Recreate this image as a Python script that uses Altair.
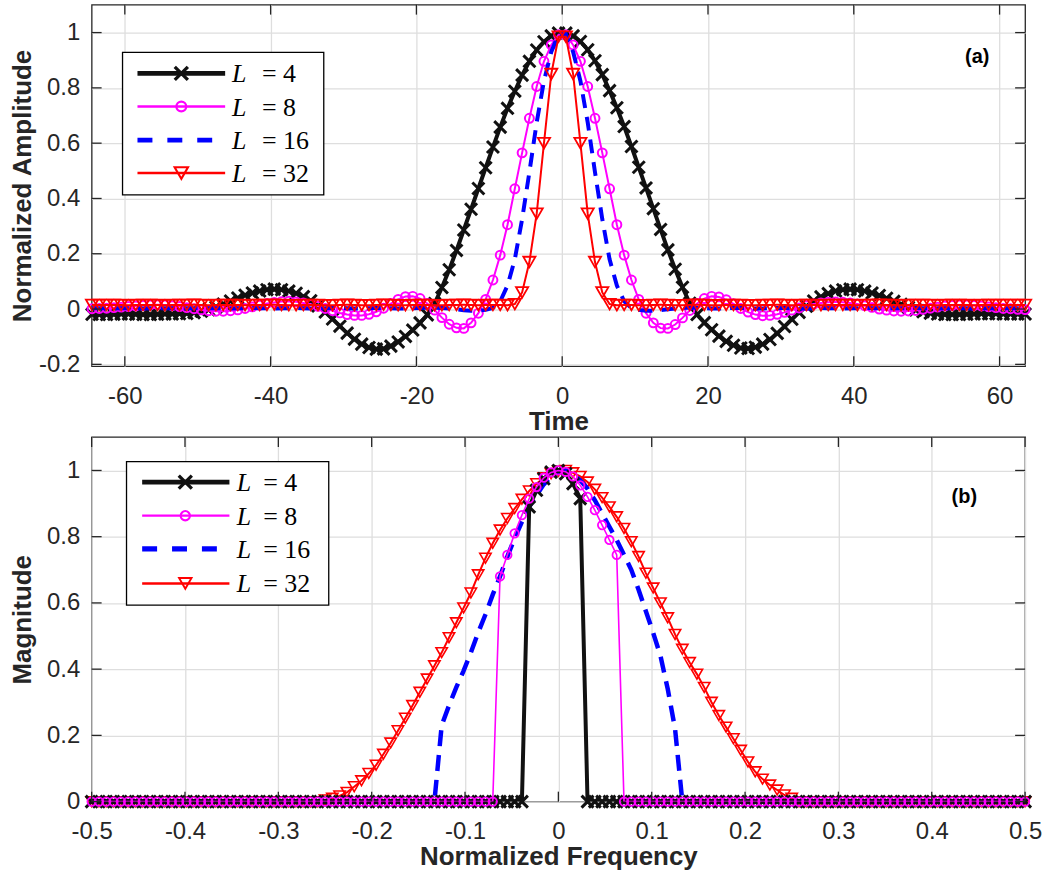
import altair as alt
import pandas as pd

# ---------------- data ----------------
# (a) time axis: samples at half-integer times -64.5 ... 63.5
TIME = [-64.5 + i for i in range(129)]

AMP_L4 = [
    -0.019, -0.02, -0.02, -0.019, -0.018, -0.018, -0.019, -0.02, -0.02, -0.019,
    -0.018, -0.018, -0.017, -0.016, -0.013, -0.008, -0.002, 0.007, 0.018, 0.029,
    0.04, 0.05, 0.058, 0.065, 0.07, 0.072, 0.07, 0.065, 0.057, 0.045,
    0.03, 0.011, -0.011, -0.036, -0.062, -0.087, -0.109, -0.127, -0.139, -0.145,
    -0.144, -0.134, -0.119, -0.099, -0.076, -0.05, -0.021, 0.02, 0.078, 0.142,
    0.212, 0.286, 0.361, 0.436, 0.511, 0.586, 0.658, 0.726, 0.788, 0.846,
    0.896, 0.937, 0.967, 0.988, 0.998,
    0.998, 0.988, 0.968, 0.938, 0.898, 0.848, 0.79, 0.728, 0.66, 0.588,
    0.513, 0.438, 0.363, 0.288, 0.214, 0.144, 0.079, 0.021, -0.02, -0.049,
    -0.075, -0.098, -0.117, -0.131, -0.141, -0.143, -0.138, -0.127, -0.11, -0.088,
    -0.063, -0.037, -0.012, 0.01, 0.029, 0.044, 0.056, 0.065, 0.07, 0.072,
    0.07, 0.065, 0.058, 0.049, 0.039, 0.028, 0.017, 0.006, -0.003, -0.01,
    -0.015, -0.018, -0.02, -0.02, -0.02, -0.019, -0.018, -0.017, -0.017, -0.017,
    -0.018, -0.018, -0.018, -0.018,
]
AMP_L8 = [
    0.001, 0.002, 0.003, 0.005, 0.007, 0.009, 0.011, 0.013, 0.015, 0.016,
    0.015, 0.012, 0.009, 0.005, 0.001, -0.003, -0.006, -0.008, -0.008, -0.006,
    -0.003, 0.002, 0.008, 0.014, 0.02, 0.024, 0.027, 0.028, 0.026, 0.022,
    0.017, 0.01, 0.002, -0.006, -0.014, -0.02, -0.023, -0.023, -0.019, -0.01,
    0.003, 0.02, 0.035, 0.045, 0.046, 0.038, 0.02, -0.004, -0.031, -0.055,
    -0.068, -0.07, -0.05, -0.015, 0.035, 0.105, 0.195, 0.305, 0.435, 0.565,
    0.69, 0.805, 0.896, 0.955, 0.992,
    0.992, 0.955, 0.896, 0.805, 0.69, 0.565, 0.435, 0.305, 0.195, 0.105,
    0.035, -0.015, -0.05, -0.069, -0.07, -0.056, -0.032, -0.005, 0.02, 0.038,
    0.046, 0.044, 0.034, 0.019, 0.002, -0.011, -0.02, -0.024, -0.023, -0.019,
    -0.012, -0.004, 0.004, 0.012, 0.018, 0.022, 0.025, 0.026, 0.025, 0.022,
    0.018, 0.012, 0.006, 0.0, -0.004, -0.007, -0.008, -0.007, -0.005, -0.001,
    0.003, 0.007, 0.011, 0.013, 0.015, 0.015, 0.013, 0.011, 0.008, 0.005,
    0.002, 0.001, -0.001, -0.002,
]
AMP_L16 = [
    0.003, 0.003, 0.003, 0.003, 0.003, 0.003, 0.003, 0.002, 0.003, 0.003,
    0.003, 0.003, 0.002, 0.003, 0.003, 0.004, 0.003, 0.003, 0.003, 0.002,
    0.003, 0.003, 0.004, 0.003, 0.003, 0.002, 0.003, 0.003, 0.004, 0.003,
    0.002, 0.002, 0.003, 0.004, 0.004, 0.003, 0.002, 0.002, 0.003, 0.004,
    0.004, 0.003, 0.002, 0.002,
    0.003, 0.004, 0.005, 0.005, 0.004, 0.002, -0.001, -0.004, -0.006, -0.006,
    -0.003, 0.004, 0.028, 0.085, 0.18, 0.325, 0.495, 0.675, 0.825, 0.93, 0.995,
    0.995, 0.93, 0.825, 0.675, 0.495, 0.325, 0.18, 0.085, 0.028, 0.004,
    -0.003, -0.006, -0.006, -0.004, -0.001, 0.002, 0.004, 0.005, 0.005, 0.004,
    0.002, 0.002, 0.003, 0.004, 0.004, 0.003, 0.002, 0.002, 0.003, 0.004,
    0.004, 0.003, 0.002, 0.002, 0.003, 0.004, 0.003, 0.003, 0.002, 0.003,
    0.003, 0.004, 0.003, 0.003, 0.002, 0.003, 0.003, 0.003, 0.004, 0.003,
    0.003, 0.002, 0.003, 0.003, 0.003, 0.003, 0.002, 0.003, 0.003, 0.003,
    0.003, 0.003, 0.003, 0.003,
]
AMP_L32 = [
    0.015, 0.015, 0.015, 0.015, 0.015, 0.014, 0.015, 0.015, 0.015, 0.015,
    0.014, 0.015, 0.015, 0.015, 0.016, 0.015, 0.014, 0.015, 0.015, 0.015,
    0.015, 0.014, 0.015, 0.015, 0.015, 0.016, 0.015, 0.014, 0.014, 0.015,
    0.015, 0.015, 0.014, 0.014, 0.015, 0.016, 0.015, 0.014, 0.014, 0.015,
    0.016, 0.015, 0.014, 0.014, 0.015, 0.015, 0.015, 0.014, 0.014, 0.015,
    0.015, 0.016, 0.015, 0.014, 0.015, 0.015, 0.015,
    0.014, 0.018, 0.06, 0.17, 0.345, 0.6, 0.85, 0.985,
    0.985, 0.85, 0.6, 0.345, 0.17, 0.06, 0.018, 0.014,
    0.015, 0.015, 0.014, 0.014, 0.015, 0.016, 0.015, 0.014, 0.014, 0.015,
    0.016, 0.015, 0.014, 0.014, 0.015, 0.015, 0.015, 0.014, 0.014, 0.015,
    0.015, 0.016, 0.015, 0.014, 0.015, 0.015, 0.015, 0.014, 0.015, 0.015,
    0.015, 0.015, 0.014, 0.015, 0.015, 0.016, 0.015, 0.015, 0.014, 0.015,
    0.015, 0.015, 0.015, 0.014, 0.015, 0.015, 0.015, 0.015, 0.014, 0.015,
    0.015, 0.015, 0.015, 0.015, 0.015, 0.015,
]

# (b) frequency axis: bins k = -64 ... 64 of a 128-point grid
FREQ_BIN = list(range(-64, 65))
N_FFT = 128

MAG_L4 = [
    0, 0, 0, 0, 0, 0, 0, 0, 0, 0, 0, 0, 0, 0, 0, 0,
    0, 0, 0, 0, 0, 0, 0, 0, 0, 0, 0, 0, 0, 0, 0, 0,
    0, 0, 0, 0, 0, 0, 0, 0, 0, 0, 0, 0, 0, 0, 0, 0,
    0, 0, 0, 0, 0, 0, 0, 0, 0, 0, 0, 0, 0.89, 0.94, 0.975, 0.995,
    1.0, 0.99, 0.96, 0.915, 0, 0, 0, 0, 0, 0, 0, 0, 0, 0, 0, 0,
    0, 0, 0, 0, 0, 0, 0, 0, 0, 0, 0, 0, 0, 0, 0, 0,
    0, 0, 0, 0, 0, 0, 0, 0, 0, 0, 0, 0, 0, 0, 0, 0,
    0, 0, 0, 0, 0, 0, 0, 0, 0, 0, 0, 0, 0, 0, 0, 0,
    0,
]
MAG_L8 = [
    0, 0, 0, 0, 0, 0, 0, 0, 0, 0, 0, 0, 0, 0, 0, 0,
    0, 0, 0, 0, 0, 0, 0, 0, 0, 0, 0, 0, 0, 0, 0, 0,
    0, 0, 0, 0, 0, 0, 0, 0, 0, 0, 0, 0, 0, 0, 0, 0,
    0, 0, 0, 0, 0, 0, 0, 0, 0.68, 0.745, 0.81, 0.865, 0.915, 0.95, 0.978, 0.994,
    1.0, 0.996, 0.982, 0.955, 0.92, 0.88, 0.835, 0.79, 0.745, 0, 0, 0, 0, 0, 0, 0,
    0, 0, 0, 0, 0, 0, 0, 0, 0, 0, 0, 0, 0, 0, 0, 0,
    0, 0, 0, 0, 0, 0, 0, 0, 0, 0, 0, 0, 0, 0, 0, 0,
    0, 0, 0, 0, 0, 0, 0, 0, 0, 0, 0, 0, 0, 0, 0, 0,
    0,
]
MAG_L16 = [
    0, 0, 0, 0, 0, 0, 0, 0, 0, 0, 0, 0, 0, 0, 0, 0,
    0, 0, 0, 0, 0, 0, 0, 0, 0, 0, 0, 0, 0, 0, 0, 0,
    0, 0, 0, 0, 0, 0, 0, 0, 0, 0, 0, 0, 0, 0, 0, 0,
    0.23, 0.29, 0.345, 0.395, 0.45, 0.51, 0.565, 0.625, 0.68, 0.74, 0.795, 0.845, 0.89, 0.925, 0.958, 0.982,
    0.996, 1.0, 0.99, 0.97, 0.945, 0.91, 0.87, 0.83, 0.79, 0.745, 0.7, 0.64, 0.575, 0.51, 0.44, 0.34,
    0.22, 0, 0, 0, 0, 0, 0, 0, 0, 0, 0, 0, 0, 0, 0, 0,
    0, 0, 0, 0, 0, 0, 0, 0, 0, 0, 0, 0, 0, 0, 0, 0,
    0, 0, 0, 0, 0, 0, 0, 0, 0, 0, 0, 0, 0, 0, 0, 0,
    0,
]
MAG_L32 = [
    0, 0, 0, 0, 0, 0, 0, 0, 0, 0, 0, 0, 0, 0, 0, 0,
    0, 0, 0, 0, 0, 0, 0, 0, 0, 0, 0, 0, 0, 0, 0, 0,
    0.005, 0.01, 0.017, 0.028, 0.045, 0.063, 0.085, 0.11, 0.143, 0.177, 0.214, 0.252, 0.29, 0.33, 0.37, 0.41,
    0.45, 0.495, 0.54, 0.585, 0.63, 0.685, 0.735, 0.78, 0.82, 0.855, 0.885, 0.913, 0.938, 0.96, 0.978, 0.99,
    0.998, 1.0, 0.993, 0.982, 0.965, 0.943, 0.918, 0.89, 0.86, 0.825, 0.785, 0.74, 0.69, 0.645, 0.6, 0.555,
    0.505, 0.46, 0.42, 0.385, 0.345, 0.3, 0.26, 0.225, 0.19, 0.155, 0.12, 0.09, 0.068, 0.05, 0.035, 0.02,
    0.01, 0, 0, 0, 0, 0, 0, 0, 0, 0, 0, 0, 0, 0, 0, 0,
    0, 0, 0, 0, 0, 0, 0, 0, 0, 0, 0, 0, 0, 0, 0, 0,
    0,
]

TIME_TICKS = [-60, -40, -20, 0, 20, 40, 60]
AMP_TICKS = [-0.2, 0, 0.2, 0.4, 0.6, 0.8, 1]
FREQ_TICKS = [-0.5, -0.4, -0.3, -0.2, -0.1, 0, 0.1, 0.2, 0.3, 0.4, 0.5]
MAG_TICKS = [0, 0.2, 0.4, 0.6, 0.8, 1]
LEGEND_N = ["4", "8", "16", "32"]

# ---------------- styling ----------------
SANS = "Liberation Sans"
SERIF = "Liberation Serif"
AX = "#262626"
GRID = "#dedede"
W = 937
H_TOP = 363
H_BOT = 366
XSHAPE = "M-1,-1L1,1M-1,1L1,-1"
LBL = "datum.value < 0 ? '-' + format(-datum.value, '~g') : format(datum.value, '~g')"
ONE = pd.DataFrame({"z": [0]})

STY_A = {
    "4": dict(color="#111111", lw=4, dash=None, shape=XSHAPE, size=144, msw=3),
    "8": dict(color="#ff00ff", lw=2, dash=None, shape="circle", size=80, msw=2),
    "16": dict(color="#0000ff", lw=4, dash=[14, 9], shape=None, size=0, msw=0),
    "32": dict(color="#ff0000", lw=2, dash=None, shape="triangle-down", size=150, msw=1.8),
}
STY_B = {
    "4": dict(color="#111111", lw=4, dash=None, shape=XSHAPE, size=144, msw=3),
    "8": dict(color="#ff00ff", lw=1.6, dash=None, shape="circle", size=72, msw=1.8),
    "16": dict(color="#0000ff", lw=4.5, dash=[16, 9], shape=None, size=0, msw=0),
    "32": dict(color="#ff0000", lw=2, dash=None, shape="triangle-down", size=130, msw=1.6),
}


def x_axis(values, title, title_y):
    return alt.Axis(
        values=values, title=title, grid=True, gridColor=GRID, gridWidth=1.3,
        ticks=False, tickSize=0, domain=False, labelFont=SANS, labelFontSize=24,
        labelColor=AX, labelPadding=37, labelBaseline="alphabetic", labelExpr=LBL,
        labelFlush=False, labelOverlap=False, titleFont=SANS, titleFontSize=26,
        titleFontWeight="bold", titleColor=AX, titleX=W / 2, titleY=title_y,
        titleBaseline="alphabetic", titleAlign="center",
    )


def y_axis(values, title, h):
    return alt.Axis(
        values=values, title=title, grid=True, gridColor=GRID, gridWidth=1.3,
        ticks=False, tickSize=0, domain=False, labelFont=SANS, labelFontSize=24,
        labelColor=AX, labelPadding=12, labelBaseline="middle", labelExpr=LBL,
        labelFlush=False, labelOverlap=False, titleFont=SANS, titleFontSize=26,
        titleFontWeight="bold", titleColor=AX, titleX=-61, titleY=h / 2,
        titleAngle=270, titleBaseline="alphabetic", titleAlign="center",
    )


def series_layers(xs, ys, st, xe, ye):
    df = pd.DataFrame({"x": xs, "y": ys})
    line_kw = dict(color=st["color"], strokeWidth=st["lw"], clip=True)
    if st["dash"]:
        line_kw["strokeDash"] = st["dash"]
    out = [alt.Chart(df).mark_line(**line_kw).encode(x=xe("x"), y=ye("y"))]
    if st["shape"]:
        out.append(alt.Chart(df).mark_point(
            shape=st["shape"], filled=False, stroke=st["color"], strokeWidth=st["msw"],
            size=st["size"], opacity=1,
        ).encode(x=xe("x"), y=ye("y")))
    return out


def tick_layers(xticks, yticks, xe, ye, h):
    out = []
    xt = pd.DataFrame({"x": xticks})
    yt = pd.DataFrame({"y": yticks})
    for y0, y1 in ((0, 10), (h - 10, h)):
        out.append(alt.Chart(xt).mark_rule(color=AX, strokeWidth=1.3).encode(
            x=xe("x"), y=alt.value(y0), y2=alt.value(y1)))
    for x0, x1 in ((0, 10), (W - 10, W)):
        out.append(alt.Chart(yt).mark_rule(color=AX, strokeWidth=1.3).encode(
            y=ye("y"), x=alt.value(x0), x2=alt.value(x1)))
    return out


def legend_layers(box, line_x, marker_x, l_x, eq_x, rows, styles):
    out = [alt.Chart(ONE).mark_rect(fill="white", stroke="#000000", strokeWidth=1.3).encode(
        x=alt.value(box[0]), x2=alt.value(box[1]), y=alt.value(box[2]), y2=alt.value(box[3]))]
    for n, yy in zip(LEGEND_N, rows):
        st = styles[n]
        rk = dict(color=st["color"], strokeWidth=st["lw"] + 0.6)
        if st["dash"]:
            rk["strokeDash"] = [15, 15]
        out.append(alt.Chart(ONE).mark_rule(**rk).encode(
            x=alt.value(line_x[0]), x2=alt.value(line_x[1]), y=alt.value(yy)))
        if st["shape"]:
            out.append(alt.Chart(ONE).mark_point(
                shape=st["shape"], filled=False, stroke=st["color"],
                strokeWidth=st["msw"] + 0.3, size=st["size"] * 1.2, opacity=1,
            ).encode(x=alt.value(marker_x), y=alt.value(yy)))
        out.append(alt.Chart(ONE).mark_text(
            text="L", font=SERIF, fontStyle="italic", fontSize=26, color="#000000",
            align="left", baseline="alphabetic",
        ).encode(x=alt.value(l_x), y=alt.value(yy + 9)))
        out.append(alt.Chart(ONE).mark_text(
            text="= " + n, font=SERIF, fontSize=26, color="#000000",
            align="left", baseline="alphabetic",
        ).encode(x=alt.value(eq_x), y=alt.value(yy + 9)))
    return out


def make_enc(scale, axis, channel):
    def enc(field):
        if channel == "x":
            return alt.X(field + ":Q", scale=scale, axis=axis, title=axis.title)
        return alt.Y(field + ":Q", scale=scale, axis=axis, title=axis.title)
    return enc


# ---------------- panel (a) ----------------
xa = make_enc(alt.Scale(domain=[-64.55, 63.5], nice=False, zero=False),
              x_axis(TIME_TICKS, "Time", 63), "x")
ya = make_enc(alt.Scale(domain=[-0.207, 1.101], nice=False, zero=False),
              y_axis(AMP_TICKS, "Normalized Amplitude", H_TOP), "y")
amp = {"4": AMP_L4, "8": AMP_L8, "16": AMP_L16, "32": AMP_L32}
layers_a = []
for n in ["4", "8", "16", "32"]:
    layers_a += series_layers(TIME, amp[n], STY_A[n], xa, ya)
layers_a += tick_layers(TIME_TICKS, AMP_TICKS, xa, ya, H_TOP)
layers_a += legend_layers((31, 233, 48, 191), (46, 134), 90, 141, 171,
                          [69, 102.3, 136, 169], STY_A)
layers_a.append(alt.Chart(ONE).mark_text(
    text="(a)", font=SANS, fontSize=20, fontWeight="bold", color="#000000",
    align="center", baseline="middle").encode(x=alt.value(889), y=alt.value(53)))
panel_a = alt.layer(*layers_a).properties(width=W, height=H_TOP)

# ---------------- panel (b) ----------------
freq = [k / N_FFT for k in FREQ_BIN]
xb = make_enc(alt.Scale(domain=[-0.5, 0.5], nice=False, zero=False),
              x_axis(FREQ_TICKS, "Normalized Frequency", 63), "x")
yb = make_enc(alt.Scale(domain=[0, 1.101], nice=False, zero=False),
              y_axis(MAG_TICKS, "Magnitude", H_BOT), "y")
mag = {"4": MAG_L4, "8": MAG_L8, "16": MAG_L16, "32": MAG_L32}
layers_b = []
for n in ["32", "16", "4", "8"]:
    layers_b += series_layers(freq, mag[n], STY_B[n], xb, yb)
layers_b += tick_layers(FREQ_TICKS, MAG_TICKS, xb, yb, H_BOT)
layers_b += legend_layers((35, 238, 24.7, 168.7), (50.7, 138.3), 94, 145.7, 172.3,
                          [45.3, 79, 112.3, 147], STY_B)
layers_b.append(alt.Chart(ONE).mark_text(
    text="(b)", font=SANS, fontSize=20, fontWeight="bold", color="#000000",
    align="center", baseline="middle").encode(x=alt.value(876), y=alt.value(60)))
panel_b = alt.layer(*layers_b).properties(width=W, height=H_BOT)

chart = alt.vconcat(panel_a, panel_b, spacing=0).properties(
    padding={"left": 9, "top": 1, "right": 5, "bottom": 5},
    background="white",
).configure_view(stroke=AX, strokeWidth=1.3)

chart.save("out.html", embed_options={"renderer": "svg", "actions": False})
